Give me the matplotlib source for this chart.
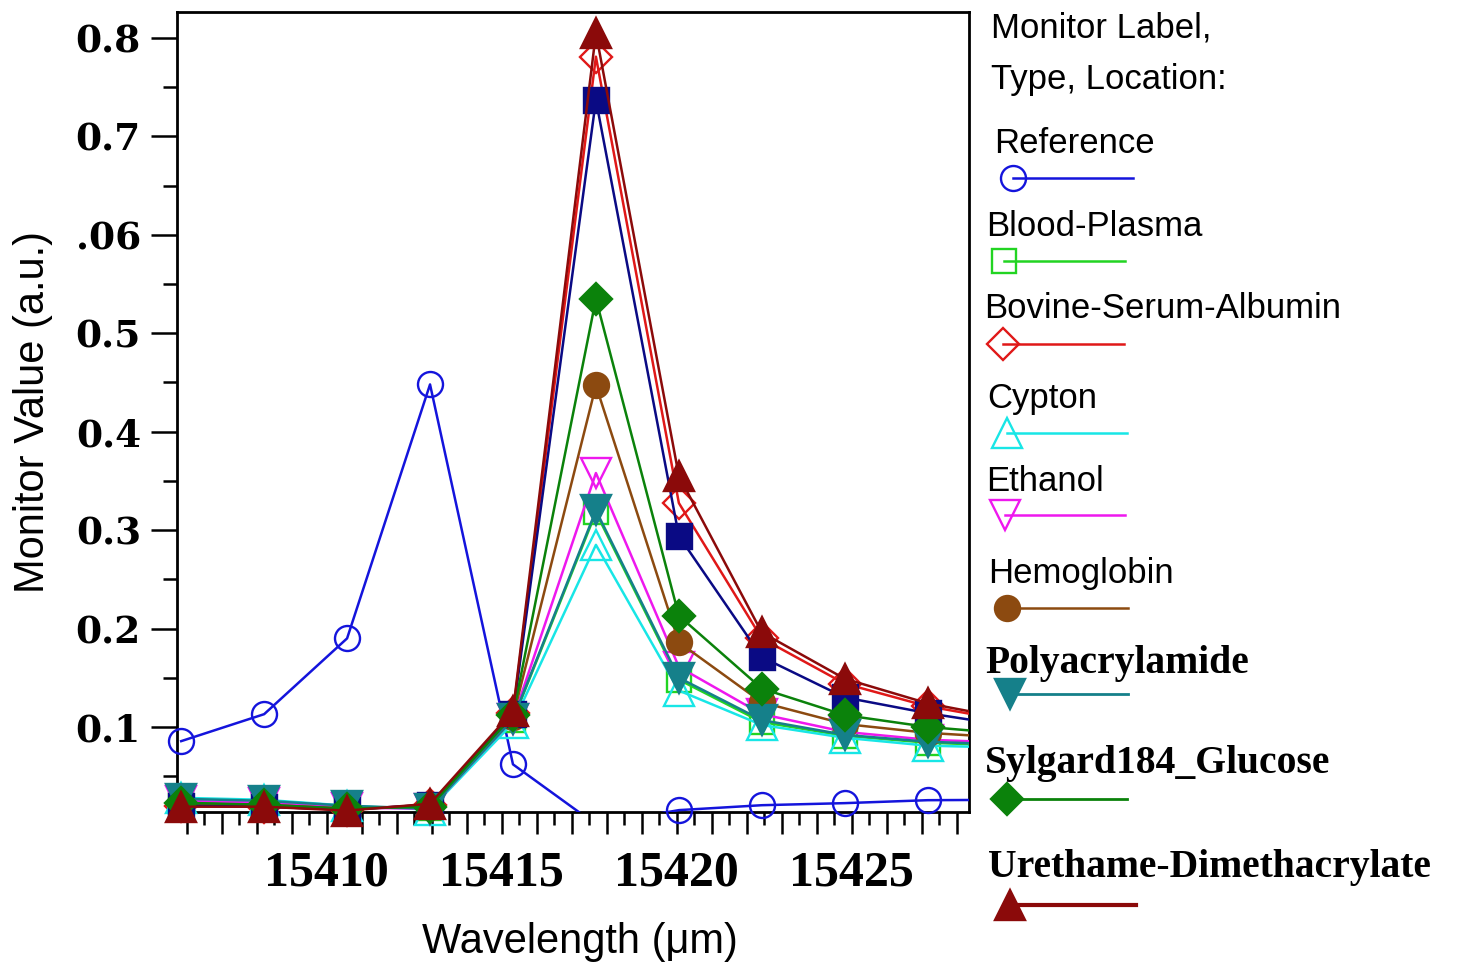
import matplotlib
matplotlib.use("Agg")
import matplotlib.pyplot as plt
from matplotlib.lines import Line2D
from matplotlib.ticker import MultipleLocator, FixedLocator, FixedFormatter, FuncFormatter
import numpy as np

# ---------------------------------------------------------------- data
wavelength = [15405.84, 15408.21, 15410.58, 15412.95, 15415.32, 15417.69,
              15420.06, 15422.43, 15424.80, 15427.17, 15429.54]

reference = [0.0856, 0.113, 0.190, 0.448, 0.062, 0.001,
             0.0155, 0.0205, 0.0226, 0.0256, 0.026]
blood_plasma = [0.024, 0.022, 0.018, 0.018, 0.107, 0.318,
                0.148, 0.105, 0.091, 0.084, 0.081]
bovine_serum_albumin = [0.020, 0.019, 0.016, 0.021, 0.114, 0.781,
                        0.3275, 0.190, 0.144, 0.121, 0.106]
cypton = [0.028, 0.026, 0.020, 0.016, 0.104, 0.285,
          0.137, 0.102, 0.089, 0.081, 0.079]
ethanol = [0.025, 0.023, 0.018, 0.017, 0.108, 0.358,
           0.161, 0.113, 0.095, 0.087, 0.084]
hemoglobin = [0.022, 0.021, 0.017, 0.019, 0.110, 0.447,
              0.186, 0.125, 0.103, 0.094, 0.089]
extra_sample = [0.020, 0.019, 0.016, 0.021, 0.113, 0.737,
                0.294, 0.171, 0.130, 0.114, 0.101]
polyacrylamide = [0.027, 0.025, 0.020, 0.017, 0.108, 0.320,
                  0.150, 0.107, 0.092, 0.085, 0.082]
sylgard184_glucose = [0.023, 0.021, 0.017, 0.019, 0.112, 0.535,
                      0.213, 0.139, 0.112, 0.100, 0.093]
urethame_dimethacrylate = [0.019, 0.019, 0.015, 0.022, 0.116, 0.805,
                           0.355, 0.196, 0.149, 0.124, 0.108]

xtick_values = [15410, 15415, 15420, 15425]
xtick_labels = ["15410", "15415", "15420", "15425"]
ytick_values = [0.1, 0.2, 0.3, 0.4, 0.5, 0.6, 0.7, 0.8]
ytick_labels = ["0.1", "0.2", "0.3", "0.4", "0.5", ".06", "0.7", "0.8"]

SANS = "Liberation Sans"
SERIF = "Liberation Serif"

# label, values, colour, marker, filled, marker size, label font
series = [
    ("Reference", reference, "#1414dc", "o", False, 18, "sans"),
    ("Blood-Plasma", blood_plasma, "#22d422", "s", False, 17, "sans"),
    ("Bovine-Serum-Albumin", bovine_serum_albumin, "#e01818", "D", False, 16, "sans"),
    ("Cypton", cypton, "#18e6e6", "^", False, 21, "sans"),
    ("Ethanol", ethanol, "#ee18ee", "v", False, 21, "sans"),
    ("Hemoglobin", hemoglobin, "#8c4a10", "o", True, 18, "sans"),
    (None, extra_sample, "#0a0a84", "s", True, 18, None),
    ("Polyacrylamide", polyacrylamide, "#15808a", "v", True, 21, "serif"),
    ("Sylgard184_Glucose", sylgard184_glucose, "#0b820b", "D", True, 16, "serif"),
    ("Urethame-Dimethacrylate", urethame_dimethacrylate, "#8b0a0a", "^", True, 21, "serif"),
]

# ---------------------------------------------------------------- figure
W, H = 1457, 969
fig = plt.figure(figsize=(W / 100, H / 100), dpi=100)
fig.patch.set_facecolor("white")


def fx(px):
    return px / W


def fy(py):
    return 1 - py / H


ax = fig.add_axes([fx(177), fy(812), fx(969) - fx(177), fy(12) - fy(812)])
xlo, xhi = 15405.72, 15428.35
ylo, yhi = 0.0136, 0.8264
ax.set_xlim(xlo, xhi)
ax.set_ylim(ylo, yhi)

x = np.array(wavelength)
for i, (label, vals, color, marker, filled, ms, _) in enumerate(series):
    y = np.array(vals)
    z = 3 + i
    ax.plot(x, y, color=color, lw=1.8, zorder=z)
    inside = (x >= xlo) & (x <= xhi) & (y >= ylo) & (y <= yhi)
    ax.plot(x[inside], y[inside], ls="none", marker=marker, ms=ms,
            mfc=color if filled else "none", mec=color, mew=1.7,
            zorder=z + 0.5, clip_on=False)

# axes frame and ticks
for sp in ax.spines.values():
    sp.set_linewidth(2.0)
    sp.set_color("black")

ax.xaxis.set_major_locator(MultipleLocator(1))
ax.xaxis.set_minor_locator(MultipleLocator(0.5))
xlab = dict(zip(xtick_values, xtick_labels))
ax.xaxis.set_major_formatter(
    FuncFormatter(lambda v, p: xlab.get(int(round(v)), "") if abs(v - round(v)) < 1e-6 else ""))
ax.yaxis.set_major_locator(FixedLocator(ytick_values))
ax.yaxis.set_major_formatter(FixedFormatter(ytick_labels))
ax.yaxis.set_minor_locator(MultipleLocator(0.05))

ax.tick_params(axis="x", which="major", direction="out", length=16, width=1.8, pad=12)
ax.tick_params(axis="x", which="minor", direction="out", length=9, width=1.8)
ax.tick_params(axis="y", which="major", direction="out", length=19, width=1.8, pad=7)
ax.tick_params(axis="y", which="minor", direction="out", length=10, width=1.8)
ax.tick_params(top=False, right=False, which="both")

for t in ax.get_xticklabels():
    t.set_fontfamily(SERIF)
    t.set_fontweight("bold")
    t.set_fontsize(36)
for t in ax.get_yticklabels():
    t.set_fontfamily("DejaVu Serif")
    t.set_fontweight("bold")
    t.set_fontsize(27)

fig.text(fx(580), fy(942), "Wavelength (\u03bcm)", family=SANS, fontsize=30,
         ha="center", va="center")
fig.text(fx(33), fy(412), "Monitor Value (a.u.)", family=SANS, fontsize=30,
         ha="center", va="center", rotation=90)

# ---------------------------------------------------------------- legend
fig.text(fx(991), fy(38), "Monitor Label,", family=SANS, fontsize=25,
         ha="left", va="baseline")
fig.text(fx(991), fy(89), "Type, Location:", family=SANS, fontsize=25,
         ha="left", va="baseline")

# text left, text baseline, marker x, sample y, line end x, line width
legend_layout = [
    (994, 153, 1013, 178, 1133, 1.8),
    (986, 236, 1004, 261, 1125, 1.8),
    (984, 318, 1003, 344, 1124, 1.8),
    (987, 408, 1007, 433, 1127, 1.8),
    (986, 491, 1005, 515, 1125, 1.8),
    (988, 583, 1007, 608, 1128, 1.8),
    (985, 673, 1010, 694, 1128, 2.0),
    (985, 773, 1007, 799, 1127, 2.0),
    (988, 877, 1010, 905, 1136, 3.0),
]
legend_series = [s for s in series if s[0] is not None]
for (label, vals, color, marker, filled, ms, font), (tx, tb, mx, my, lx, lw) in zip(
        legend_series, legend_layout):
    if font == "serif":
        fig.text(fx(tx), fy(tb), label, family=SERIF, fontweight="bold",
                 fontsize=28.5, ha="left", va="baseline")
    else:
        fig.text(fx(tx), fy(tb), label, family=SANS, fontsize=25,
                 ha="left", va="baseline")
    fig.add_artist(Line2D([fx(mx), fx(lx)], [fy(my), fy(my)], color=color, lw=lw,
                          transform=fig.transFigure))
    fig.add_artist(Line2D([fx(mx)], [fy(my)], ls="none", marker=marker, ms=ms,
                          mfc=color if filled else "none", mec=color, mew=1.7,
                          transform=fig.transFigure))

fig.savefig("out.png", dpi=100, facecolor="white")
